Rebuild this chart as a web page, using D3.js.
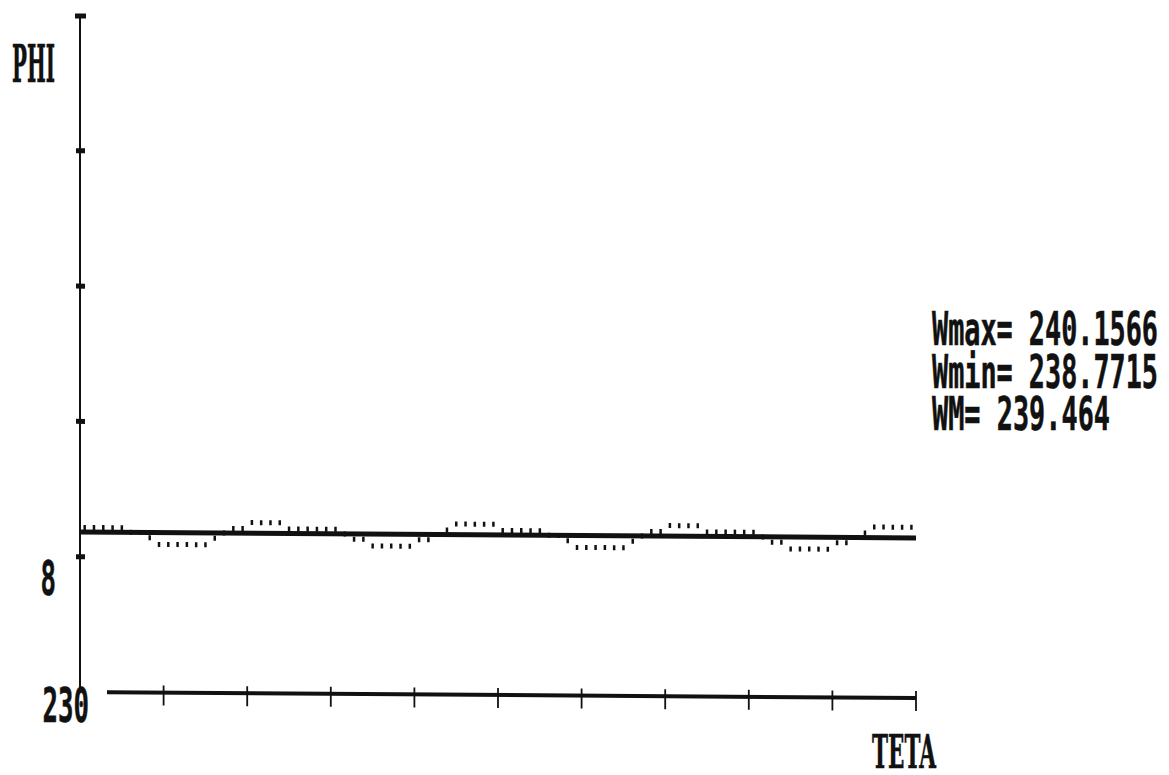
<!DOCTYPE html>
<html>
<head>
<meta charset="utf-8">
<script src="https://cdn.jsdelivr.net/npm/d3@7"></script>
<style>
  body { margin: 0; background: #fff; }
</style>
</head>
<body>
<div id="div1"></div>
<script>

// values
let wm = 239.464
let wmaxText = "Wmax= 240.1566"
let wminText = "Wmin= 238.7715"
let wmText = "WM= 239.464"

// sampled W every 4 degrees of TETA (starting at 2)
let tetaSamples = d3.range(2, 360, 4)
let wSamples = [
  239.73, 239.73, 239.73, 239.73, 239.73, 239.46, 239.46, 239.15, 238.76, 238.76,
  238.76, 238.76, 238.76, 238.76, 239.15, 239.46, 239.73, 239.73, 240.09, 240.09,
  240.09, 240.09, 239.73, 239.73, 239.73, 239.73, 239.73, 239.73, 239.46, 239.15,
  239.15, 238.76, 238.76, 238.76, 238.76, 238.76, 239.15, 239.15, 239.46, 239.73,
  240.09, 240.09, 240.09, 240.09, 240.09, 239.73, 239.73, 239.73, 239.73, 239.73,
  239.46, 239.46, 239.15, 238.76, 238.76, 238.76, 238.76, 238.76, 238.76, 239.15,
  239.46, 239.73, 239.73, 240.09, 240.09, 240.09, 240.09, 239.73, 239.73, 239.73,
  239.73, 239.73, 239.73, 239.46, 239.15, 239.15, 238.76, 238.76, 238.76, 238.76,
  238.76, 239.15, 239.15, 239.46, 239.73, 240.09, 240.09, 240.09, 240.09, 240.09
]

let xTicks = [36, 72, 108, 144, 180, 216, 252, 288, 324, 360]
let yTicks = [238, 246, 254, 262]
let yTickLabels = [{v: 230, t: "230"}, {v: 238, t: "8"}]

let ink = "#111"

let svg = d3.select("#div1").append("svg")
svg.attr("width", 1169)
svg.attr("height", 775)

let x = d3.scaleLinear().domain([0, 360]).range([80, 916])
let y = d3.scaleLinear().domain([230, 270]).range([692, 15.5])

// the paper was a bit crooked in the scanner
let plot = svg.append("g")
  .attr("transform", "translate(80,0) skewY(0.41) translate(-80,0)")

// y axis
plot.append("line")
  .attr("x1", x(0)).attr("x2", x(0))
  .attr("y1", y(270)).attr("y2", y(230) - 2)
  .style("stroke", ink).style("stroke-width", 2)

plot.append("rect")
  .attr("x", x(0) - 5).attr("y", y(270) - 2)
  .attr("width", 11).attr("height", 5)
  .style("fill", ink)

plot.selectAll(".ytick")
  .data(yTicks)
  .enter()
  .append("rect")
  .attr("class", "ytick")
  .attr("x", x(0) - 4)
  .attr("y", d => y(d) - 2.5)
  .attr("width", 9)
  .attr("height", 5)
  .style("fill", ink)

// x axis (starts after the 230 label)
plot.append("line")
  .attr("x1", x(0) + 27).attr("x2", x(360))
  .attr("y1", y(230)).attr("y2", y(230))
  .style("stroke", ink).style("stroke-width", 4)

plot.selectAll(".xtick")
  .data(xTicks)
  .enter()
  .append("line")
  .attr("class", "xtick")
  .attr("x1", d => x(d)).attr("x2", d => x(d))
  .attr("y1", y(230) - 7).attr("y2", y(230) + 13)
  .style("stroke", ink).style("stroke-width", 1.8)

// mean line
plot.append("line")
  .attr("x1", x(0)).attr("x2", x(360))
  .attr("y1", y(wm)).attr("y2", y(wm))
  .style("stroke", ink).style("stroke-width", 5)

// sampled points, printed as short dashes
plot.selectAll(".pt")
  .data(wSamples)
  .enter()
  .append("rect")
  .attr("class", "pt")
  .attr("x", (d, i) => x(tetaSamples[i]) - 1.2)
  .attr("y", d => y(d) - 2.5)
  .attr("width", 2.5)
  .attr("height", 5)
  .style("fill", ink)

// labels
let serif = "'DejaVu Serif', serif"
let mono = "'DejaVu Sans Mono', monospace"

function label(txt, px, py, size, len, fam) {
  svg.append("text")
    .attr("x", px).attr("y", py)
    .attr("textLength", len)
    .attr("lengthAdjust", "spacingAndGlyphs")
    .style("font-family", fam)
    .style("font-weight", "bold")
    .style("font-size", size + "px")
    .style("fill", ink)
    .style("stroke", ink)
    .style("stroke-width", 0.6)
    .text(txt)
}

label("PHI", 12, 82, 53, 43, serif)
label("TETA", 872, 768, 47, 64, serif)

yTickLabels.forEach(function (d) {
  let w = d.t.length * 15.5
  label(d.t, (d.v == 230 ? 89 : 56) - w, y(d.v) + (d.v == 230 ? 30 : 38), 48, w, mono)
})

label(wmaxText, 932, 345, 46, 226, mono)
label(wminText, 932, 388, 46, 226, mono)
label(wmText, 932, 430, 46, 178, mono)

</script>
</body>
</html>
